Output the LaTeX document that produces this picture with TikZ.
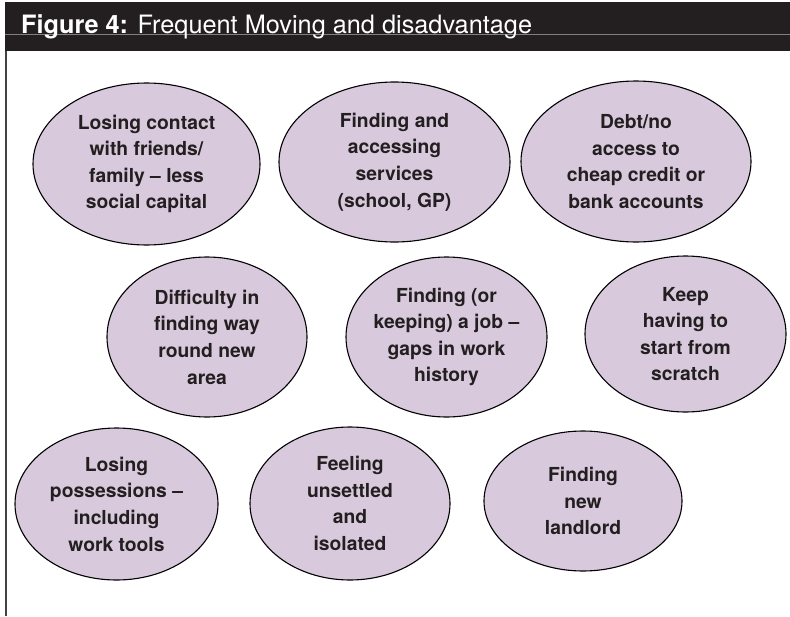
\documentclass[tikz,border=0pt]{standalone}
\usepackage{fontspec}
\setmainfont{TeX Gyre Heros}
\usetikzlibrary{shapes.geometric}
\definecolor{barblack}{HTML}{231F20}
\definecolor{lilac}{HTML}{D8C9DD}
\tikzset{
  issue/.style={ellipse, draw=black, line width=1.1pt, fill=lilac, text=barblack,
    align=center, inner xsep=-16pt, inner ysep=0pt,
    font=\fontsize{19.3}{26.6}\selectfont\bfseries},
}

\begin{document}
\begin{tikzpicture}[x=1pt,y=-1pt]
  \useasboundingbox (0,0) rectangle (790,616);
  % title bar and frame
  \fill[barblack] (5,2) rectangle (790,51);
  \draw[gray, line width=0.6pt] (5,34) -- (790,34);
  \draw[barblack!85, line width=1.5pt] (6,51) -- (6,616);
  \node[anchor=base west, text=white, inner sep=0pt, font=\fontsize{25.3}{30}\selectfont] (title) at (21,33)
    {\textbf{Figure 4:} Frequent Moving and disadvantage};

  % top row
  \node[issue, minimum width=227pt, minimum height=162pt] (contact) at (146.5,164)
    {Losing contact\\with friends/\\family – less\\social capital};
  \node[issue, minimum width=231pt, minimum height=160pt] (services) at (394.5,162)
    {Finding and\\accessing\\services\\(school, GP)};
  \node[issue, minimum width=230pt, minimum height=161pt] (debt) at (636,161.5)
    {Debt/no\\access to\\cheap credit or\\bank accounts};

  % middle row
  \node[issue, minimum width=200pt, minimum height=160pt] (area) at (207,337)
    {Difficulty in\\finding way\\round new\\area};
  \node[issue, minimum width=201pt, minimum height=160pt] (job) at (446.5,337)
    {Finding (or\\keeping) a job –\\gaps in work\\history};
  \node[issue, minimum width=201pt, minimum height=156pt] (scratch) at (685.5,334)
    {Keep\\having to\\start from\\scratch};

  % bottom row
  \node[issue, minimum width=203pt, minimum height=152pt] (possessions) at (116.5,504)
    {Losing\\possessions –\\including\\work tools};
  \node[issue, minimum width=200pt, minimum height=153pt] (unsettled) at (350,503.5)
    {Feeling\\unsettled\\and\\isolated};
  \node[issue, minimum width=198pt, minimum height=140pt] (landlord) at (583,501)
    {Finding\\new\\landlord};
\end{tikzpicture}
\end{document}
